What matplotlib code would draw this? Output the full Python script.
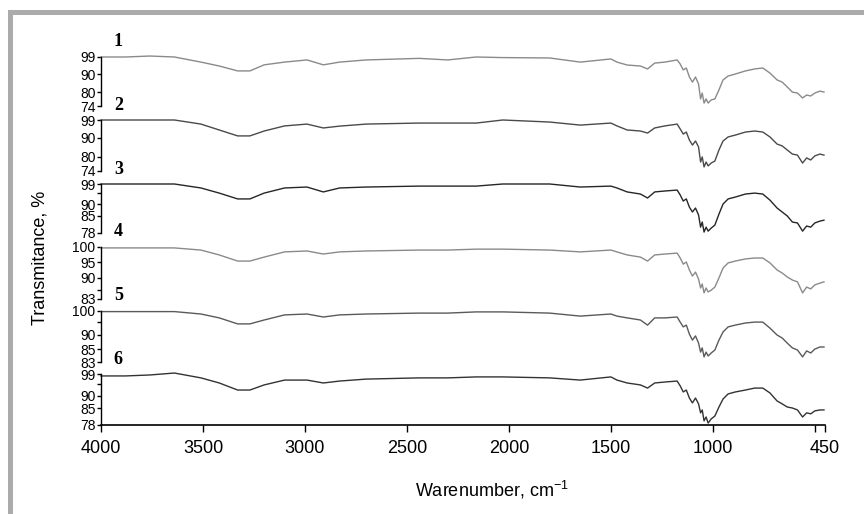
import matplotlib
matplotlib.use("Agg")
import matplotlib.pyplot as plt
from matplotlib.patches import Rectangle

plt.rcParams['font.family'] = ['Liberation Sans', 'DejaVu Sans']
plt.rcParams['mathtext.fontset'] = 'custom'
plt.rcParams['mathtext.rm'] = 'Liberation Sans'
plt.rcParams['mathtext.it'] = 'Liberation Sans'

# ---------------- data ----------------
wavenumbers = [4000, 3880, 3760, 3640, 3510, 3420, 3330, 3270, 3200, 3100, 2990, 2910,
               2830, 2700, 2440, 2300, 2160, 2030, 1800, 1650,
               1500, 1470, 1420, 1355, 1320, 1285, 1235, 1175, 1160, 1145, 1130, 1115,
               1100, 1085, 1070, 1060, 1052, 1043, 1033, 1023, 1008, 990, 970, 950,
               925, 890, 840, 795, 755, 720, 685, 660, 635, 610, 585, 560,
               540, 520, 500, 475, 455]

spectrum_1 = [99, 99, 99.5, 99, 96.4, 94.4, 91.9, 91.9, 95, 96.4, 97.5, 95,
              96.4, 97.5, 98.3, 97.5, 99, 98.7, 98.5, 96.4,
              98, 96.4, 94.9, 94.4, 92.9, 95.9, 96.4, 97.5, 95.4, 92.4, 93.4, 88.8,
              86.2, 88.8, 85.2, 77.6, 80.6, 75.5, 77.6, 75.5, 77.1, 77.6, 82.2, 87.3,
              89.3, 90.3, 91.9, 92.9, 93.4, 90.8, 87.3, 86.2, 83.7, 81.1, 80.6, 78.1,
              79.6, 79.1, 80.6, 81.6, 81.1]
spectrum_2 = [99, 99, 99, 99, 97, 94.1, 91.2, 91.2, 93.6, 96.1, 97, 95.1,
              96, 97, 97.5, 97.5, 97.5, 99, 98, 96.5,
              97.5, 96.1, 94.1, 93.6, 92.6, 95.1, 96.1, 97, 94.6, 92.1, 93.1, 89.2,
              86.7, 88.7, 85.8, 78.4, 80.9, 76, 78.4, 76.5, 77.9, 78.9, 84.3, 88.7,
              90.7, 91.6, 93.1, 93.6, 93.1, 90.7, 87.2, 86.3, 84.3, 82.3, 81.8, 77.9,
              80.4, 79.4, 81.4, 82.3, 81.8]
spectrum_3 = [99, 99, 99, 99, 97.3, 95.1, 92.6, 92.6, 95.1, 97.3, 97.7, 95.6,
              97.3, 97.7, 98.1, 98.1, 98.1, 99, 99, 97.7,
              98.1, 97.3, 95.6, 94.7, 93, 95.6, 96, 96.4, 94.3, 91.7, 92.6, 89.1,
              87, 88.7, 85.7, 80.5, 82.7, 78.4, 80.5, 78.8, 80.1, 81.4, 86.1, 90.4,
              92.6, 93.4, 94.7, 95.1, 94.7, 92.1, 88.7, 87, 85.3, 82.7, 82.3, 78.8,
              81, 80.5, 82.3, 83.1, 83.5]
spectrum_4 = [99.7, 99.7, 99.7, 99.7, 99, 97.4, 95.4, 95.4, 96.7, 98.4, 98.7, 97.7,
              98.4, 98.7, 99, 99, 99.3, 99.3, 99, 98.4,
              99, 98.4, 97.4, 96.7, 95.4, 97.4, 97.7, 98, 96.4, 94.4, 95.1, 92.5,
              90.5, 91.8, 89.5, 86.6, 87.9, 85, 86.6, 85.3, 85.9, 86.9, 89.9, 93.1,
              94.8, 95.4, 96.1, 96.4, 96.4, 94.8, 92.5, 91.5, 90.2, 89.2, 88.6, 85,
              86.9, 86.3, 87.6, 88.2, 88.6]
spectrum_5 = [99.8, 99.8, 99.8, 99.8, 99, 97.7, 95.7, 95.7, 97, 98.7, 99, 98,
              98.7, 99, 99.3, 99.3, 99.7, 99.7, 99.3, 98.3,
              99, 98.3, 97.7, 97, 95.3, 97.7, 97.7, 98, 96.3, 94.7, 95.3, 92.3,
              90.3, 91.7, 89.3, 86.3, 87.7, 84.7, 86.3, 85, 86, 87, 90.3, 93,
              94.7, 95.3, 96, 96.3, 96.3, 94.3, 92, 91, 89.3, 87.7, 87, 84.7,
              86.7, 86, 87.3, 88, 88]
spectrum_6 = [98.2, 98.2, 98.6, 99.4, 97.4, 95.3, 92.4, 92.4, 94.5, 96.5, 96.5, 95.3,
              96.1, 96.9, 97.4, 97.4, 97.8, 97.8, 97.4, 96.5,
              97.8, 96.5, 95.3, 94.5, 93.2, 95.3, 95.7, 96.1, 94.1, 91.6, 92.4, 89.1,
              87.1, 89.1, 86.7, 83, 84.2, 79.7, 81.3, 78.8, 80.5, 81.7, 85.4, 88.7,
              90.8, 91.6, 92.4, 93.2, 93.2, 91.2, 87.9, 86.7, 85.4, 85, 84.2, 81.3,
              83, 82.6, 83.8, 84.2, 84.2]

spectra = [spectrum_1, spectrum_2, spectrum_3, spectrum_4, spectrum_5, spectrum_6]
panel_labels = ['1', '2', '3', '4', '5', '6']
y_limits = [(74, 99), (74, 99), (78, 99), (83, 100), (83, 100), (78, 99)]
y_ticks = [[99, 90.3, 81.1, 74], [99, 90.2, 80.9, 74], [99, 95, 90.4, 85.3, 78],
           [100, 95, 90, 86, 83], [100, 96.3, 92, 87.3, 83], [99, 95, 90, 85, 78]]
y_tick_labels = [['99', '90', '80', '74'], ['99', '90', '80', '74'], ['99', '', '90', '85', '78'],
                 ['100', '95', '90', '', '83'], ['100', '', '90', '85', '83'], ['99', '', '90', '85', '78']]
x_ticks = [4000, 3500, 3000, 2500, 2000, 1500, 1000, 500, 450]
x_tick_labels = ['4000', '3500', '3000', '2500', '2000', '1500', '1000', '', '450']

# ---------------- style / layout ----------------
line_colors = ['#8a8a8a', '#4a4a4a', '#262626', '#8a8a8a', '#5a5a5a', '#333333']
W, H = 864, 514
panel_px = [(57, 106), (120, 171), (184, 233), (247, 299), (311, 362), (374, 425)]
x_left, x_right = 101, 825

fig = plt.figure(figsize=(W / 100, H / 100), dpi=100)
fig.patch.set_facecolor('white')

# gray frame
fig.patches.append(Rectangle((8 / W, 1 - 15 / H), 1 - 8 / W, 5 / H, transform=fig.transFigure,
                             facecolor='#ababab', edgecolor='none', zorder=0))
fig.patches.append(Rectangle((8 / W, 0), 5 / W, 1 - 10 / H, transform=fig.transFigure,
                             facecolor='#ababab', edgecolor='none', zorder=0))

for i, (top, bot) in enumerate(panel_px):
    ax = fig.add_axes([x_left / W, (H - bot) / H, (x_right - x_left) / W, (bot - top) / H])
    ax.patch.set_alpha(0)
    ax.plot(wavenumbers, spectra[i], color=line_colors[i], lw=1.0, clip_on=False)
    ax.set_xlim(4000, 450)
    ax.set_ylim(*y_limits[i])
    for s in ['top', 'right']:
        ax.spines[s].set_visible(False)
    ax.spines['left'].set_linewidth(1.0)
    ax.set_yticks(y_ticks[i])
    ax.set_yticklabels(y_tick_labels[i])
    ax.tick_params(axis='y', direction='out', length=3, width=1.0, pad=1, labelsize=10)
    if i < 5:
        ax.spines['bottom'].set_visible(False)
        ax.set_xticks([])
    else:
        ax.spines['bottom'].set_linewidth(1.2)
        ax.set_xticks(x_ticks)
        ax.set_xticklabels(x_tick_labels)
        ax.tick_params(axis='x', direction='out', length=5, width=1.0, pad=6, labelsize=13)
    ax.text(3915, 1 + 15 / (bot - top), panel_labels[i], transform=ax.get_xaxis_transform(),
            ha='center', va='center', fontsize=13, fontweight='bold', family='Liberation Serif')

fig.text(492 / W, 1 - 490 / H, r'Warenumber, cm$^{-1}$', ha='center', va='center', fontsize=13)
fig.text(40 / W, 1 - 258 / H, 'Transmitance, %', ha='center', va='center', rotation=90, fontsize=13)

fig.savefig('out.png', dpi=100, facecolor='white')
